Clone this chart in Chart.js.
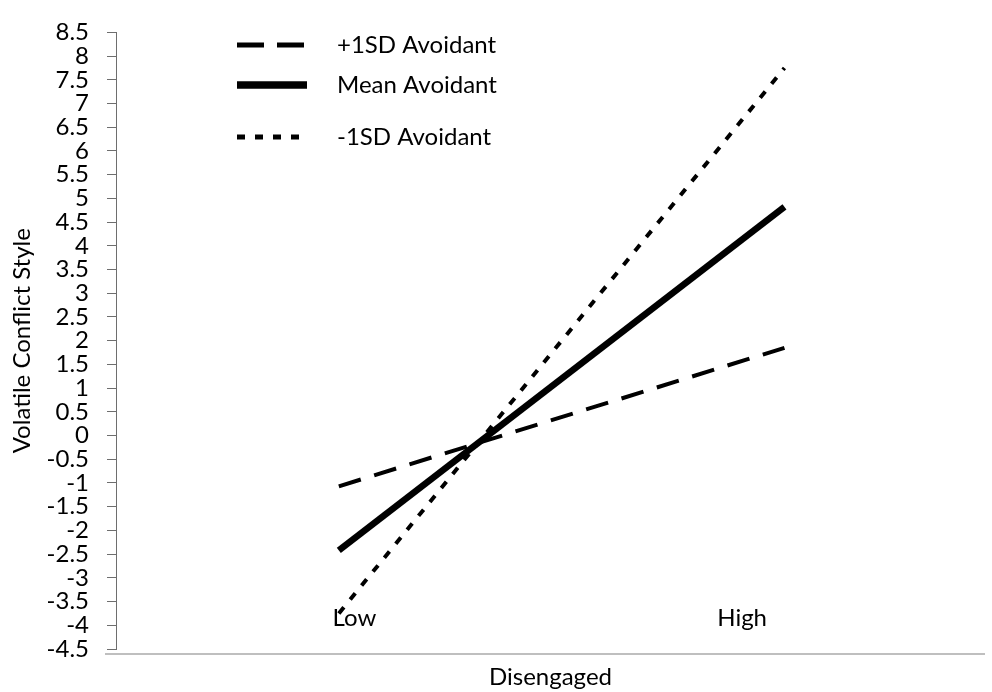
<!DOCTYPE html>
<html>
<head>
<meta charset="utf-8">
<title>Volatile Conflict Style</title>
<script src="https://cdn.jsdelivr.net/npm/chart.js@4.4.1/dist/chart.umd.min.js"></script>
<style>
  html, body { margin: 0; padding: 0; background: #fff; }
  #wrap { width: 992px; height: 692px; }
</style>
</head>
<body>
<div id="wrap"><canvas id="grafico" width="992" height="692"></canvas></div>
<script>
// === data ===
const categories = ['Low', 'High'];
// where the category labels sit on the x scale (Low = 0, High = 1)
const labelAt = [0.035, 0.905];

const seriesNames = ['+1SD Avoidant', 'Mean Avoidant', '-1SD Avoidant'];
const plusOneSD = [-1.07, 1.85];
const meanAvoidant = [-2.42, 4.82];
const minusOneSD = [-3.75, 7.75];

const yMin = -4.5;
const yMax = 8.5;
const yStep = 0.5;

const xTitle = 'Disengaged';
const yTitle = 'Volatile Conflict Style';

const FONT = 'Lato';
const FONT_SIZE = 24;
Chart.defaults.font.family = FONT;
Chart.defaults.color = '#000';

function toPoints(values) {
    return categories.map((c, i) => ({ x: i, y: values[i] }));
}

// legend drawn by hand: line sample + label, one row per dataset
const legendRows = [45, 85, 137];
const legendPlugin = {
    id: 'legendLines',
    afterDatasetsDraw(chart) {
        const ctx = chart.ctx;
        ctx.save();
        chart.data.datasets.forEach((ds, i) => {
            const y = legendRows[i];
            ctx.beginPath();
            ctx.setLineDash(ds.legendDash || []);
            ctx.lineWidth = ds.borderWidth + 1;
            ctx.strokeStyle = ds.borderColor;
            ctx.lineCap = 'butt';
            ctx.moveTo(237, y);
            ctx.lineTo(307, y);
            ctx.stroke();
            ctx.setLineDash([]);
            ctx.fillStyle = '#000';
            ctx.font = FONT_SIZE + 'px ' + FONT;
            ctx.textBaseline = 'middle';
            ctx.textAlign = 'left';
            ctx.fillText(ds.label, 337, y);
        });
        ctx.restore();
    }
};

// light grey horizontal axis line, a bit under the plot
const xAxisLine = {
    id: 'xAxisLine',
    beforeDatasetsDraw(chart) {
        const { ctx, chartArea } = chart;
        ctx.save();
        ctx.strokeStyle = '#bfbfbf';
        ctx.lineWidth = 2;
        ctx.beginPath();
        ctx.moveTo(chartArea.left - 11, chartArea.bottom + 5);
        ctx.lineTo(chartArea.right, chartArea.bottom + 5);
        ctx.stroke();
        ctx.restore();
    }
};

const ctx = document.getElementById('grafico').getContext('2d');
new Chart(ctx, {
    type: 'line',
    data: {
        datasets: [{
            label: seriesNames[0],
            data: toPoints(plusOneSD),
            borderColor: '#000',
            borderWidth: 4,
            borderDash: [23, 14],
            legendDash: [27, 13],
            pointRadius: 0,
            fill: false,
            tension: 0
        }, {
            label: seriesNames[1],
            data: toPoints(meanAvoidant),
            borderColor: '#000',
            borderWidth: 6.5,
            pointRadius: 0,
            fill: false,
            tension: 0
        }, {
            label: seriesNames[2],
            data: toPoints(minusOneSD),
            borderColor: '#000',
            borderWidth: 4,
            borderDash: [8, 10],
            legendDash: [8, 10],
            pointRadius: 0,
            fill: false,
            tension: 0
        }]
    },
    options: {
        responsive: false,
        animation: false,
        devicePixelRatio: 1,
        layout: { padding: { top: 19, right: 7, bottom: 0, left: 0 } },
        plugins: {
            legend: { display: false },
            tooltip: { enabled: false }
        },
        scales: {
            x: {
                type: 'linear',
                min: -0.5,
                max: 1.45,
                afterFit: s => { s.height = 43; },
                afterBuildTicks: s => { s.ticks = labelAt.map(v => ({ value: v })); },
                grid: { display: false },
                border: { display: false },
                ticks: {
                    mirror: true,
                    padding: 16,
                    autoSkip: false,
                    maxRotation: 0,
                    font: { size: FONT_SIZE },
                    color: '#000',
                    callback: (v, i) => categories[i]
                },
                title: {
                    display: true,
                    text: xTitle,
                    font: { size: FONT_SIZE },
                    color: '#000',
                    padding: { top: 0, bottom: 0 }
                }
            },
            y: {
                min: yMin,
                max: yMax,
                afterFit: s => { s.width = 116; },
                border: { display: true, color: '#6e6e6e', width: 1 },
                grid: {
                    display: true,
                    drawOnChartArea: false,
                    drawTicks: true,
                    tickLength: 9,
                    tickColor: '#6e6e6e'
                },
                ticks: {
                    stepSize: yStep,
                    autoSkip: false,
                    padding: 18,
                    font: { size: FONT_SIZE },
                    color: '#000',
                    callback: v => String(v)
                },
                title: {
                    display: true,
                    text: yTitle,
                    font: { size: FONT_SIZE },
                    color: '#000',
                    padding: { top: 8, bottom: 0 }
                }
            }
        }
    },
    plugins: [xAxisLine, legendPlugin]
});
</script>
</body>
</html>
